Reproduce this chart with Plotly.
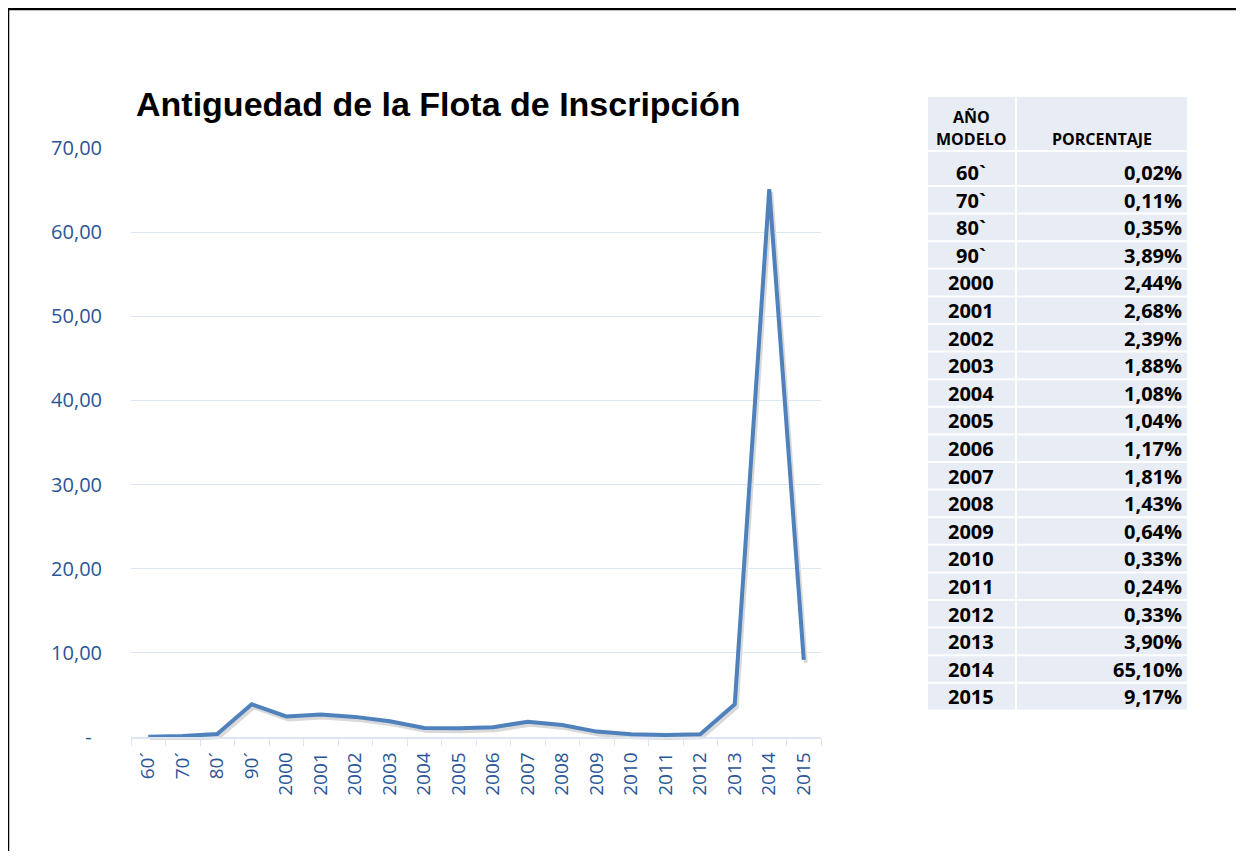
"""Antiguedad de la Flota de Inscripcion: line chart plus table."""

import plotly.graph_objects as go

YEARS = ["60´", "70´", "80´", "90´", "2000", "2001", "2002", "2003", "2004", "2005",
         "2006", "2007", "2008", "2009", "2010", "2011", "2012", "2013", "2014", "2015"]
TABLE_YEARS = ["60`", "70`", "80`", "90`", "2000", "2001", "2002", "2003", "2004", "2005",
               "2006", "2007", "2008", "2009", "2010", "2011", "2012", "2013", "2014", "2015"]
PERCENT = [0.02, 0.11, 0.35, 3.89, 2.44, 2.68, 2.39, 1.88, 1.08, 1.04,
           1.17, 1.81, 1.43, 0.64, 0.33, 0.24, 0.33, 3.90, 65.10, 9.17]
Y_TICKS = [0, 10, 20, 30, 40, 50, 60, 70]
Y_TICK_TEXT = ["-\u00a0\u00a0", "10,00", "20,00", "30,00", "40,00", "50,00", "60,00", "70,00"]

# the page puts the figure 8px in from each edge
OFF = 8
W, H = 1244 - 2 * OFF, 859 - 2 * OFF
ML, MR, MT, MB = 123, 20, 60, 60
PW, PH = W - ML - MR, H - MT - MB


def px_x(x):
    # reference screenshot x -> paper x
    return (x - OFF - ML) / PW


def px_y(y):
    # reference screenshot y -> paper y
    return (H - MB - (y - OFF)) / PH


LINE_BLUE = "#4F81BD"
TICK_BLUE = "#2A5597"
GRID = "#DCE6F2"
CELL = "#E8ECF4"

x_dom = [px_x(131), px_x(821)]
y_dom = [px_y(737), px_y(148)]
n_cat = len(YEARS)

fig = go.Figure()

# soft shadow under the line, on a copy of the axes nudged down/right
fig.add_trace(go.Scatter(
    x=YEARS, y=PERCENT, mode="lines",
    line=dict(color="rgba(0,0,0,0.15)", width=4), hoverinfo="skip", showlegend=False,
))
fig.add_trace(go.Scatter(
    x=YEARS, y=PERCENT, mode="lines", xaxis="x2", yaxis="y2",
    line=dict(color=LINE_BLUE, width=4), showlegend=False,
))

# table on the right, built from shapes and annotations
shapes = []
annotations = []
tfont = dict(family="Open Sans", size=20, color="black")
hfont = dict(family="Open Sans", size=16, color="black")


def cell(x0, x1, y0, y1):
    shapes.append(dict(
        type="rect", xref="paper", yref="paper",
        x0=px_x(x0), x1=px_x(x1), y0=px_y(y1), y1=px_y(y0),
        fillcolor=CELL, line=dict(width=0), layer="below",
    ))


def label(text, x, y, anchor, font):
    annotations.append(dict(
        text=text, xref="paper", yref="paper", x=px_x(x), y=px_y(y),
        xanchor=anchor, yanchor="middle", showarrow=False, font=font,
    ))


C1 = (928, 1015)
C2 = (1017, 1187)
cell(*C1, 97, 150)
cell(*C2, 97, 150)
label("<b>AÑO</b>", 971, 117, "center", hfont)
label("<b>MODELO</b>", 971, 139, "center", hfont)
label("<b>PORCENTAJE</b>", 1102, 139, "center", hfont)

FIRST_TOP, ROW_TOP, ROW_H = 152, 187, 27.6
for i, (yr, v) in enumerate(zip(TABLE_YEARS, PERCENT)):
    top = FIRST_TOP if i == 0 else ROW_TOP + (i - 1) * ROW_H
    bottom = ROW_TOP + i * ROW_H - 2
    cell(*C1, top, bottom)
    cell(*C2, top, bottom)
    mid = bottom - 12.6
    label(f"<b>{yr}</b>", 971, mid, "center", tfont)
    label(f"<b>{v:.2f}%</b>".replace(".", ","), 1184, mid, "right", tfont)

# frame of the slide (top and left edges are in view)
frame = dict(color="black", width=2.5)
shapes.append(dict(type="line", xref="paper", yref="paper",
                   x0=px_x(8), x1=px_x(1300), y0=px_y(9), y1=px_y(9),
                   line=frame, layer="above"))
shapes.append(dict(type="line", xref="paper", yref="paper",
                   x0=px_x(8), x1=px_x(8), y0=px_y(9), y1=px_y(900),
                   line=frame, layer="above"))

fig.update_layout(
    width=W, height=H,
    margin=dict(l=ML, r=MR, t=MT, b=MB),
    paper_bgcolor="white", plot_bgcolor="rgba(0,0,0,0)",
    title=dict(
        text="<b>Antiguedad de la Flota de Inscripción</b>",
        font=dict(family="Liberation Sans", size=34, color="black"),
        x=px_x(136), xref="paper", xanchor="left",
        y=1 - (104 - OFF) / H, yref="container", yanchor="middle",
    ),
    xaxis=dict(
        domain=[x_dom[0] + 2 / PW, x_dom[1] + 2 / PW], type="category",
        range=[-0.5, n_cat - 0.5], anchor="y", visible=False,
    ),
    yaxis=dict(
        domain=[y_dom[0] - 3 / PH, y_dom[1] - 3 / PH], range=[0, 70],
        anchor="x", visible=False,
    ),
    xaxis2=dict(
        domain=x_dom, type="category", anchor="y2", showgrid=False,
        range=[-0.5, n_cat - 0.5],
        showline=True, linecolor=GRID, linewidth=1.5,
        ticks="outside", tickson="boundaries", ticklen=7, tickcolor=GRID,
        ticklabelstandoff=6,
        tickangle=-90, tickfont=dict(family="Open Sans", size=19, color=TICK_BLUE),
    ),
    yaxis2=dict(
        domain=y_dom, range=[0, 70], anchor="x2",
        tickvals=Y_TICKS, ticktext=Y_TICK_TEXT,
        showgrid=True, gridcolor=GRID, gridwidth=1, zeroline=False,
        showline=False, ticks="", ticklabelstandoff=28,
        tickfont=dict(family="Open Sans", size=20, color=TICK_BLUE),
    ),
    shapes=shapes,
    annotations=annotations,
)

fig.write_html("out.html")
